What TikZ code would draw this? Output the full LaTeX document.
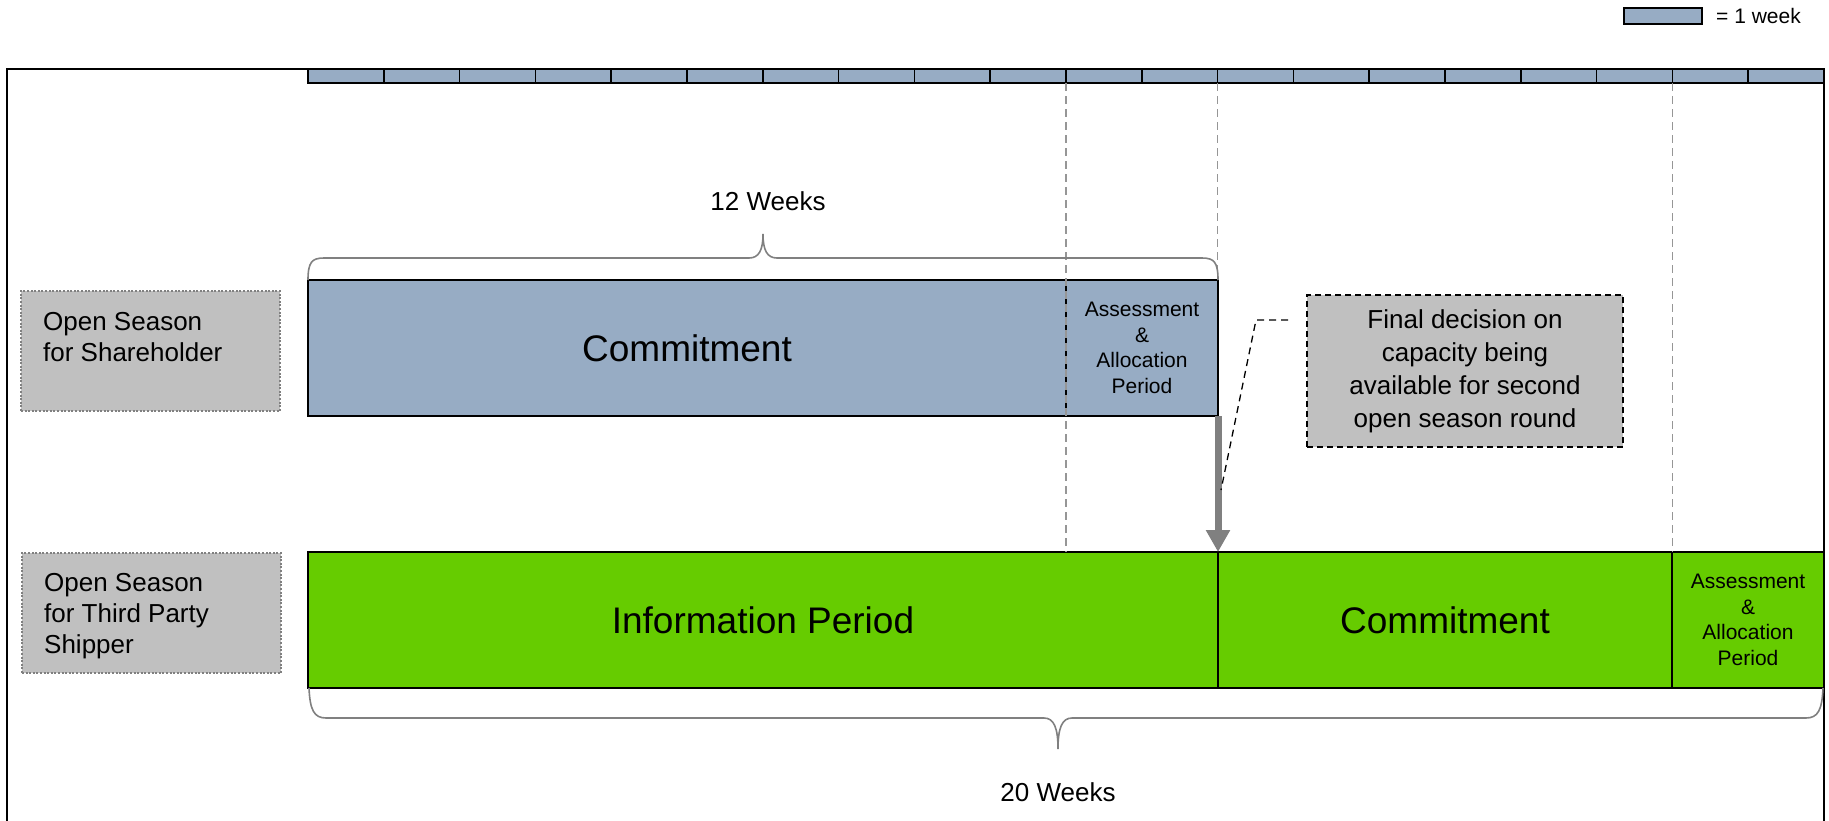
\documentclass[tikz,border=0pt]{standalone}
\usepackage{fontspec}
\setmainfont{Liberation Sans}
\usetikzlibrary{arrows.meta}
\definecolor{bluegray}{RGB}{151,172,196}
\definecolor{barGreen}{RGB}{102,204,0}
\definecolor{boxGray}{RGB}{192,192,192}
\definecolor{lineGray}{RGB}{128,128,128}
\definecolor{guideGray}{RGB}{150,150,150}
\tikzset{
  wkbox/.style={draw=black, line width=1.5pt, fill=bluegray, anchor=north west, minimum width=75.8pt, minimum height=14pt, inner sep=0pt, outer sep=0pt},
  bluebar/.style={draw=black, line width=1.5pt, fill=bluegray, anchor=north west, minimum height=136pt, inner sep=0pt, outer sep=0pt, align=center},
  greenbar/.style={draw=black, line width=1.5pt, fill=barGreen, anchor=north west, minimum height=136pt, inner sep=0pt, outer sep=0pt, align=center},
  bigtext/.style={font=\fontsize{37pt}{44pt}\selectfont},
  smalltext/.style={font=\fontsize{21pt}{25.5pt}\selectfont},
  lblbox/.style={draw=lineGray, fill=boxGray, line width=2pt, dash pattern=on 2pt off 1.6pt, anchor=north west, minimum width=259pt, minimum height=120pt, inner sep=0pt, outer sep=0pt},
  lbltext/.style={align=left, inner sep=0pt, font=\fontsize{26pt}{31pt}\selectfont, anchor=base west},
  guide/.style={draw=guideGray, line width=1.3pt, dash pattern=on 8pt off 5pt},
  bracestyle/.style={draw=lineGray, line width=1.6pt},
  callout/.style={draw=black, line width=1.3pt, dash pattern=on 7pt off 5pt},
  bigarrow/.style={draw=lineGray, line width=7pt, -{Triangle[width=23pt,length=22pt]}},
  weektext/.style={font=\fontsize{26pt}{31pt}\selectfont, inner sep=0pt}
}
\begin{document}
\begin{tikzpicture}[x=1pt,y=-1pt]
\useasboundingbox (0,0) rectangle (1829,820);
% outer frame
\draw[line width=2pt] (7,824) -- (7,69) -- (1824,69) -- (1824,824);
% legend
\node[draw=black, line width=1.5pt, fill=bluegray, anchor=north west, minimum width=78pt, minimum height=16pt, inner sep=0pt] (legend) at (1623,7) {};
\node[font=\fontsize{21pt}{25pt}\selectfont, anchor=base west, inner sep=0pt] (legendtext) at (1716,23) {= 1 week};
% timeline weeks
\foreach \i in {0,...,19} {
  \node[wkbox] (w\i) at ({308+75.8*\i},69) {};
}
% bars
\node[bluebar, bigtext, minimum width=758pt] (commitA) at (308,280) {Commitment};
\node[bluebar, smalltext, minimum width=152pt] (assessA) at (1066,280) {Assessment\\\&\\Allocation\\Period};
\node[greenbar, bigtext, minimum width=910pt] (info) at (308,552) {Information Period};
\node[greenbar, bigtext, minimum width=454pt] (commitB) at (1218,552) {Commitment};
\node[greenbar, smalltext, minimum width=152pt] (assessB) at (1672,552) {Assessment\\\&\\Allocation\\Period};
% guide lines
\draw[guide] (w10.south west) -- (w10.south west |- info.north);
\draw[guide] (w12.south west) -- (w12.south west |- commitA.north);
\draw[guide] (w18.south west) -- (w18.south west |- info.north);
% label boxes
\node[lblbox] (shbox) at (21,291) {};
\node[lbltext] (shtext) at (43,361) {Open Season\\for Shareholder};
\node[lblbox] (tpbox) at (22,553) {};
\node[lbltext] (tptext) at (44,653) {Open Season\\for Third Party\\Shipper};
% decision box
\node[draw=black, fill=boxGray, line width=1.5pt, dash pattern=on 6pt off 4pt, minimum width=316pt, minimum height=152pt, align=center, font=\fontsize{26pt}{33pt}\selectfont, inner sep=0pt] (decision) at (1465,371) {Final decision on\\capacity being\\available for second\\open season round};
% arrow
\draw[bigarrow] (assessA.south east) -- (assessA.south east |- info.north);
% callout
\coordinate (co1) at (1288,320);
\coordinate (co2) at (1256,320);
\coordinate (co3) at (1221,490);
\draw[callout] (co1) -- (co2) -- (co3);
% top brace
\draw[bracestyle] (308,280) .. controls (308,262) and (312,258) .. (324,258) -- (749,258) .. controls (759,258) and (763,250) .. (763,234) .. controls (763,250) and (767,258) .. (777,258) -- (1202,258) .. controls (1214,258) and (1218,262) .. (1218,280);
\node[weektext, anchor=base] (twelve) at (768,210) {12 Weeks};
% bottom brace
\draw[bracestyle] (309,688) .. controls (310,710) and (314,718) .. (326,718) -- (1044,718) .. controls (1054,718) and (1058,728) .. (1058,749) .. controls (1058,728) and (1062,718) .. (1072,718) -- (1806,718) .. controls (1818,718) and (1822,710) .. (1823,688);
\node[weektext, anchor=base] (twenty) at (1058,801) {20 Weeks};
\end{tikzpicture}
\end{document}
